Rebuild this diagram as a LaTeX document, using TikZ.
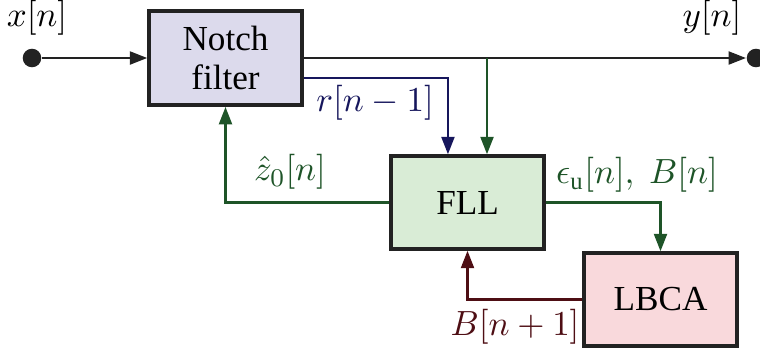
\documentclass[tikz,border=0pt]{standalone}
\usepackage{amsmath}
\usepackage{fontspec}
\setmainfont{Liberation Serif}
\usepackage{xcolor}
\usepackage{tikz}
\usetikzlibrary{arrows.meta,positioning,calc}
\definecolor{notchfill}{RGB}{220,218,236}
\definecolor{fllfill}{RGB}{217,236,214}
\definecolor{lbcafill}{RGB}{249,217,220}
\definecolor{sigblack}{RGB}{34,34,34}
\definecolor{fllgreen}{RGB}{30,84,40}
\definecolor{resblue}{RGB}{22,22,92}
\definecolor{bndred}{RGB}{78,14,20}

\begin{document}
\begin{tikzpicture}[
  x=0.11mm, y=0.11mm,
  font=\fontsize{11}{13}\selectfont,
  block/.style={draw=sigblack, line width=1.1pt, minimum width=16.8mm, minimum height=10.2mm, align=center, inner sep=0pt},
  dot/.style={circle, fill=sigblack, inner sep=0pt, minimum size=5.8pt},
  ar/.style={-{Triangle[length=5.5pt,width=4pt]}, line width=0.9pt, draw=sigblack},
  gr/.style={ar, draw=fllgreen},
  bl/.style={ar, draw=resblue},
  rd/.style={ar, draw=bndred}
]
\useasboundingbox (0,0) rectangle (760,353);
\node[block, fill=notchfill, minimum height=10.35mm] (notch) at (225.5,295) {Notch\\[-1pt]filter};
\node[block, fill=fllfill] (fll) at (467.5,150.5) {FLL};
\node[block, fill=lbcafill] (lbca) at (660.5,53.5) {LBCA};
\node[dot] (xin) at (32,295) {};
\node[dot] (yout) at (756,295) {};
\node (xlab) at (37,335) {$x[n]$};
\node (ylab) at (712,335) {$y[n]$};
\coordinate (tap) at (487,295);
\draw[ar] (xin) -- (notch);
\draw[ar] (notch) -- (yout);
\draw[gr] (tap) -- (tap |- fll.north);
\draw[bl] ([yshift=-2.2mm]notch.east) -| ([xshift=-2.15mm]fll.north);
\draw[gr] (fll.west) -| (notch.south);
\draw[gr] (fll.east) -| (lbca.north);
\draw[rd] (lbca.west) -| (fll.south);
\node[text=resblue] (rlab) at (375,250) {$r[n-1]$};
\node[text=fllgreen] (zlab) at (290,181) {$\hat{z}_0[n]$};
\node[text=fllgreen] (elab) at (637,178) {$\epsilon_{\mathrm{u}}[n],\ B[n]$};
\node[text=bndred] (blab) at (515,26) {$B[n+1]$};
\end{tikzpicture}
\end{document}
